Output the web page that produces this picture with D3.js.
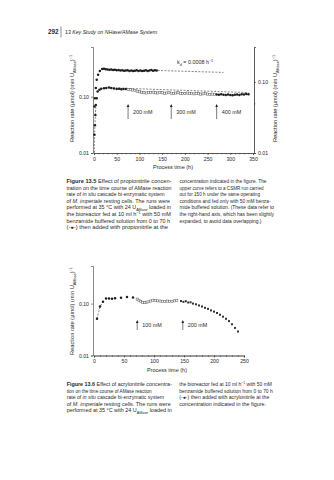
<!DOCTYPE html>
<html><head><meta charset="utf-8">
<script src="https://cdn.jsdelivr.net/npm/d3@7"></script>
<style>
body{margin:0;background:#fff}
svg{display:block}
text{font-family:"Liberation Sans",Arial,sans-serif;fill:#2a2a2a}
</style>
</head><body>
<script>
// ---------- DATA ----------
// Figure 13.5 – lower series (left axis), propionitrile run
const f5LowT = [1,2,3,4,6,8,12,16,22,27,33,38,44,50,55,60,65,70,
  75,80,85,90,95,100,105,110,115,120,125,130,135,140,145,150,155,160,165,170,175,180,185,190,195,200,205,210,215,220,225,230,235,240,245,250,255,260,265,
  270,275,280,285,290,295,300,305,310,315,320,325,330,335,340];
const f5LowV = [0.021,0.031,0.047,0.071,0.094,0.123,0.133,0.138,0.141,0.143,0.145,0.142,0.139,0.137,0.138,0.135,0.137,0.136,
  0.134,0.133,0.131,0.128,0.125,0.122,0.120,0.117,0.116,0.118,0.119,0.120,0.117,0.116,0.118,0.117,0.115,0.116,0.118,0.115,0.114,0.116,0.117,0.115,0.113,0.114,0.116,0.115,0.113,0.112,0.114,0.113,0.111,0.112,0.113,0.111,0.110,0.111,0.110,
  0.109,0.108,0.110,0.108,0.107,0.109,0.107,0.106,0.108,0.109,0.107,0.110,0.109,0.111,0.110];
// Figure 13.5 – upper series (right axis), CSMR run with benzamide only
const f5UpT = [1,2,4,6,9,13,18,22,26,30,34,38,42,46,50,54,58,62,66,70,74,78,82,86,90,94,98,102,106,110,114,118,122,126,130,134,138];
const f5UpV = [0.045,0.059,0.082,0.107,0.126,0.143,0.152,0.153,0.151,0.150,0.148,0.149,0.147,0.148,0.146,0.147,0.145,0.146,0.144,0.145,0.146,0.143,0.145,0.142,0.144,0.146,0.143,0.145,0.142,0.144,0.146,0.143,0.145,0.147,0.144,0.146,0.145];
// dashed fits
const f5RiseT = [0.6,1,2,3,4];
const f5RiseV = [0.0101,0.021,0.031,0.047,0.071];
const f5LowFitT = [40,340];
const f5LowFitV = [0.143,0.118];
const f5UpFitT = [140,285];
const f5UpFitV = [0.145,0.136];
const f5ArrowT = [75,170,270];
const f5ArrowLbl = ["200 mM","300 mM","400 mM"];
const f5XTicks = [0,50,100,150,200,250,300,350];
const f5YTicks = [0.01,0.10];

// Figure 13.6 – acrylonitrile run
const f6T = [5,10,15,20,25,30,35,45,55,65,
  72,75,78,81,84,87,90,94,98,102,106,110,114,118,122,126,130,134,138,
  145,149,153,157,161,165,170,175,180,185,190,195,200,205,210,215,220,225,230,235,240];
const f6V = [0.051,0.088,0.109,0.126,0.125,0.124,0.127,0.130,0.134,0.131,
  0.122,0.116,0.110,0.106,0.104,0.106,0.108,0.112,0.116,0.114,0.113,0.112,0.111,0.110,0.112,0.109,0.111,0.113,0.114,
  0.112,0.108,0.111,0.105,0.106,0.100,0.097,0.092,0.088,0.083,0.079,0.074,0.070,0.066,0.061,0.056,0.051,0.046,0.040,0.034,0.029];
const f6RiseT = [5,10,15];
const f6RiseV = [0.051,0.088,0.109];
const f6ArrowT = [72,148];
const f6ArrowLbl = ["100 mM","200 mM"];
const f6XTicks = [0,50,100,150,200,250];
const f6YTicks = [0.01,0.10];

const cap5Left = [
 "**Figure 13.5**  Effect of propionitrile concen-",
 "tration on the time course of AMase reaction",
 "rate of *in situ* cascade bi-enzymatic system",
 "of *M. imperiale* resting cells. The runs were",
 "performed at 35 °C with 24 U_{AMase} loaded in",
 "the bioreactor fed at 10 ml h^{−1} with 50 mM",
 "benzamide buffered solution from 0 to 70 h",
 "(-●-) then added with propionitrile at the"];
const cap5Right = [
 "concentration indicated in the figure. The",
 "upper curve refers to a CSMR run carried",
 "out for 150 h under the same operating",
 "conditions and fed only with 50 mM benza-",
 "mide buffered solution. (These data refer to",
 "the right-hand axis, which has been slightly",
 "expanded, to avoid data overlapping.)"];
const cap6Left = [
 "**Figure 13.6**  Effect of acrylonitrile concentra-",
 "tion on the time course of AMase reaction",
 "rate of *in situ* cascade bi-enzymatic system",
 "of *M. imperiale* resting cells. The runs were",
 "performed at 35 °C with 24 U_{AMase} loaded in"];
const cap6Right = [
 "the bioreactor fed at 10 ml h^{−1} with 50 mM",
 "benzamide buffered solution from 0 to 70 h",
 "(-●-) then added with acrylonitrile at the",
 "concentration indicated in the figure."];
const yLabel = "Reaction rate (µmol) (min U_{AMase})^{−1}";
const xLabel = "Process time (h)";

// ---------- LAYOUT ----------
const cap5LeftEnd = [171.5,171.5,164.5,170,171,171,170,168];
const cap5RightEnd = [266.5,263.5,260,270.5,274,274,261.5];
const cap6LeftEnd = [171.7,151.7,164,170.7,171.7];
const cap6RightEnd = [272,272.7,269.3,266];

const svg = d3.select("body").append("svg").attr("width",334).attr("height",480);
svg.append("rect").attr("width",334).attr("height",480).attr("fill","#fff");

function rich(textSel, str, fs){
  const toks = str.split(/(\*\*[^*]+\*\*|\*[^*]+\*|_\{[^}]+\}|\^\{[^}]+\})/).filter(s=>s.length);
  let shift = 0;
  toks.forEach(tk=>{
    let s=tk, kind='n';
    if(tk.startsWith("**")){s=tk.slice(2,-2);kind='b';}
    else if(tk.startsWith("*")){s=tk.slice(1,-1);kind='i';}
    else if(tk.startsWith("_{")){s=tk.slice(2,-1);kind='sub';}
    else if(tk.startsWith("^{")){s=tk.slice(2,-1);kind='sup';}
    const target = kind==='sub'? fs*0.3 : kind==='sup'? -fs*0.38 : 0;
    const ts = textSel.append("tspan").text(s);
    if(target!==shift) ts.attr("dy", target-shift);
    shift = target;
    if(kind==='b') ts.attr("font-weight","bold");
    if(kind==='i') ts.attr("font-style","italic");
    if(kind==='sub'||kind==='sup') ts.attr("font-size", fs*0.68);
  });
  return textSel;
}

// header
svg.append("text").attr("x",48).attr("y",34.3).attr("font-size",6.4).attr("font-weight","bold")
  .attr("textLength",10.5).attr("lengthAdjust","spacingAndGlyphs").text("292");
svg.append("line").attr("x1",61).attr("x2",61).attr("y1",26.5).attr("y2",37.5).attr("stroke","#444").attr("stroke-width",0.6);
const hd = svg.append("text").attr("x",65).attr("y",34).attr("font-size",5.8)
  .attr("textLength",92).attr("lengthAdjust","spacingAndGlyphs");
hd.append("tspan").text("13  ");
hd.append("tspan").attr("font-style","italic").text("Key Study on NHase/AMase System");

// captions
const CFS = 5.0;
function caption(lines, ends, x0, y0, step){
  lines.forEach((ln,i)=>{
    const t = svg.append("text").attr("x",x0).attr("y",y0+i*step).attr("font-size",CFS);
    rich(t, ln, CFS);
    t.attr("textLength", ends[i]-x0).attr("lengthAdjust","spacingAndGlyphs");
  });
}
caption(cap5Left, cap5LeftEnd, 66.5, 183, 6.6);
caption(cap5Right, cap5RightEnd, 179.5, 183, 6.6);
caption(cap6Left, cap6LeftEnd, 66.7, 386.3, 6.5);
caption(cap6Right, cap6RightEnd, 179.3, 386.3, 6.5);

const AX = "#3a3a3a";
function yLab(x, cy, len){
  const t = svg.append("text").attr("transform",`translate(${x},${cy}) rotate(-90)`)
    .attr("text-anchor","middle").attr("font-size",5.4);
  rich(t, yLabel, 5.4);
  t.attr("textLength",len).attr("lengthAdjust","spacingAndGlyphs");
}
function markers(g, data, x, y, kindFn){
  data.forEach(d=>{
    const k = kindFn(d[0]);
    const cx = x(d[0]), cy = y(d[1]);
    if(k==='c') g.append("circle").attr("cx",cx).attr("cy",cy).attr("r",1.25).attr("fill","#1e1e1e");
    else if(k==='o') g.append("rect").attr("x",cx-1.05).attr("y",cy-1.05).attr("width",2.1).attr("height",2.1)
      .attr("fill","#fff").attr("stroke","#555").attr("stroke-width",0.5);
    else g.append("rect").attr("x",cx-1).attr("y",cy-1).attr("width",2).attr("height",2).attr("fill","#333");
  });
}
function dashed(g, T, V, x, y){
  g.append("path").datum(d3.zip(T,V))
    .attr("d", d3.line().x(d=>x(d[0])).y(d=>y(d[1])))
    .attr("fill","none").attr("stroke","#333").attr("stroke-width",0.6).attr("stroke-dasharray","2,1.4");
}
function arrows(g, T, L, x, yTop, yBot){
  T.forEach((t,i)=>{
    const ax = x(t);
    g.append("line").attr("x1",ax).attr("x2",ax).attr("y1",yBot).attr("y2",yTop+2.5).attr("stroke","#222").attr("stroke-width",0.6);
    g.append("path").attr("d",`M${ax},${yTop} L${ax-1.4},${yTop+3} L${ax+1.4},${yTop+3} Z`).attr("fill","#222");
    g.append("text").attr("x",ax+5).attr("y",(yTop+yBot)/2+2).attr("font-size",5.4).text(L[i]);
  });
}
function styleAxis(sel){
  sel.selectAll("path").attr("stroke",AX).attr("stroke-width",0.6);
  sel.selectAll("line").attr("stroke",AX).attr("stroke-width",0.6);
  sel.selectAll("text").attr("font-size",5.2).attr("fill","#2a2a2a").attr("font-family","Liberation Sans, Arial, sans-serif");
}

// ---------- FIGURE 13.5 ----------
{
  const x = d3.scaleLinear([0,350],[94,253]);
  const yL = d3.scaleLog([0.01,0.76],[153,47]);
  const yR = d3.scaleLog([0.01,0.31],[153,47]);
  const g = svg.append("g");
  g.append("g").attr("transform","translate(0,153)").call(d3.axisBottom(x).tickValues(d3.range(0,351,10)).tickSize(1.3).tickFormat("")).call(styleAxis);
  g.append("g").attr("transform","translate(0,153)").call(d3.axisBottom(x).tickValues(f5XTicks).tickSize(2).tickPadding(2).tickFormat(d3.format("d"))).call(styleAxis);
  g.append("g").attr("transform","translate(93,0)").call(d3.axisLeft(yL).tickValues(f5YTicks).tickSize(2).tickPadding(2).tickFormat(d3.format(".2f"))).call(styleAxis);
  g.append("g").attr("transform","translate(254,0)").call(d3.axisRight(yR).tickValues(f5YTicks).tickSize(2).tickPadding(2).tickFormat(d3.format(".2f"))).call(styleAxis);
  g.append("g").attr("transform","translate(254,0)").call(d3.axisRight(yR).tickValues([0.05]).tickSize(1.5).tickFormat("")).call(styleAxis);
  dashed(g, f5RiseT, f5RiseV, x, yL);
  dashed(g, f5LowFitT, f5LowFitV, x, yL);
  dashed(g, f5UpFitT, f5UpFitV, x, yR);
  markers(g, d3.zip(f5LowT,f5LowV), x, yL, t=> t<=70||t>=270 ? 'c' : 'o');
  markers(g, d3.zip(f5UpT,f5UpV), x, yR, ()=> 'c');
  arrows(g, f5ArrowT, f5ArrowLbl, x, 104, 119);
  const kd = g.append("text").attr("x",177).attr("y",64).attr("font-size",5.4);
  rich(kd, "k_{d} = 0.0008 h^{−1}", 5.4);
  g.append("text").attr("x",173).attr("y",169).attr("text-anchor","middle").attr("font-size",5.5).text(xLabel);
  yLab(74, 98.5, 87);
  yLab(277, 98.5, 87);
}

// ---------- FIGURE 13.6 ----------
{
  const x = d3.scaleLinear([0,250],[94,244]);
  const y = d3.scaleLog([0.01,0.53],[355.5,266]);
  const g = svg.append("g");
  g.append("g").attr("transform","translate(0,355.5)").call(d3.axisBottom(x).tickValues(d3.range(0,251,10)).tickSize(1.3).tickFormat("")).call(styleAxis);
  g.append("g").attr("transform","translate(0,355.5)").call(d3.axisBottom(x).tickValues(f6XTicks).tickSize(2).tickPadding(2).tickFormat(d3.format("d"))).call(styleAxis);
  g.append("g").attr("transform","translate(93,0)").call(d3.axisLeft(y).tickValues(f6YTicks).tickSize(2).tickPadding(2).tickFormat(d3.format(".2f"))).call(styleAxis);
  dashed(g, f6RiseT, f6RiseV, x, y);
  markers(g, d3.zip(f6T,f6V), x, y, t=> t<70 ? 'c' : (t<142 ? 'o' : 's'));
  arrows(g, f6ArrowT, f6ArrowLbl, x, 320, 330);
  g.append("text").attr("x",167).attr("y",372).attr("text-anchor","middle").attr("font-size",5.5).text(xLabel);
  yLab(74, 311, 88);
}
</script>
</body></html>
